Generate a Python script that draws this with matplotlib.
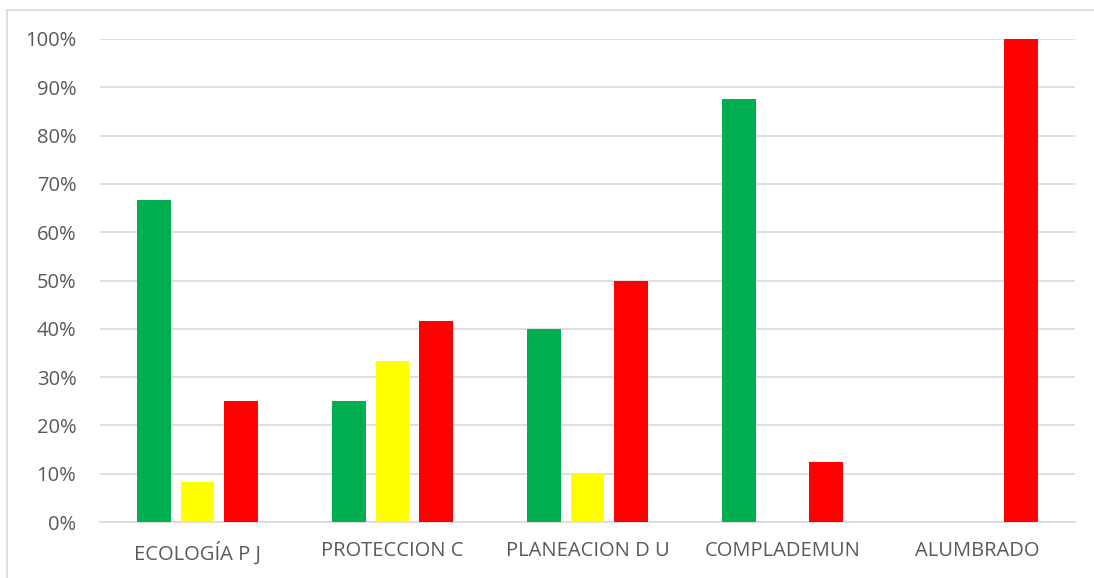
import numpy as np
import matplotlib.pyplot as plt
from matplotlib.lines import Line2D

categorias = ['ECOLOGÍA P J', 'PROTECCION C', 'PLANEACION D U', 'COMPLADEMUN', 'ALUMBRADO']
verde = [0.667, 0.25, 0.40, 0.875, 0.0]
amarillo = [0.083, 0.333, 0.10, 0.0, 0.0]
rojo = [0.25, 0.417, 0.50, 0.125, 1.0]

plt.rcParams['font.family'] = ['Open Sans', 'DejaVu Sans']

fig = plt.figure(figsize=(10.94, 5.78), dpi=100)
# borde del área del gráfico (solo se ven izquierda y arriba)
bx, by = 7/1094, 1 - 10/578
fig.lines.append(Line2D([bx, bx], [0, by], transform=fig.transFigure, color='#d9d9d9', lw=1.2))
fig.lines.append(Line2D([bx, 1], [by, by], transform=fig.transFigure, color='#d9d9d9', lw=1.2))
ax = fig.add_axes([100/1094, 1 - 522/578, 975/1094, 483/578])

x = np.arange(len(categorias))
w = 0.174
d = 0.223
ax.bar(x - d, verde, w, color='#00B050', zorder=3)
ax.bar(x, amarillo, w, color='#FFFF00', zorder=3)
ax.bar(x + d, rojo, w, color='#FF0000', zorder=3)

ax.set_xlim(-0.5, len(categorias) - 0.5)
ax.set_ylim(0, 1)
ax.set_yticks(np.arange(0, 1.01, 0.1))
ax.set_yticklabels([f'{int(round(v*100))}%' for v in np.arange(0, 1.01, 0.1)])
ax.set_xticks(x)
ax.set_xticklabels(categorias)
ax.yaxis.grid(True, color='#d9d9d9', linewidth=1.2, zorder=0)
for s in ['top', 'right', 'left']:
    ax.spines[s].set_visible(False)
ax.spines['bottom'].set_color('#d9d9d9')
ax.spines['bottom'].set_linewidth(1.2)
ax.tick_params(length=0, colors='#595959', labelsize=14.5)
ax.tick_params(axis='y', pad=17)
ax.tick_params(axis='x', pad=14)

fig.savefig('out.png', dpi=100)
